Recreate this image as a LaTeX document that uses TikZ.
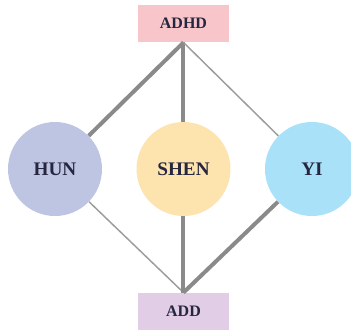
\documentclass[tikz,border=0pt]{standalone}
\usepackage{fontspec}
\setmainfont{Liberation Serif}
\usepackage{xcolor}
\usepackage{tikz}
\usetikzlibrary{positioning, calc}
\definecolor{adhdpink}{HTML}{F8C6CA}
\definecolor{addlilac}{HTML}{E1CDE6}
\definecolor{hunblue}{HTML}{BEC5E2}
\definecolor{shenyellow}{HTML}{FDE3AE}
\definecolor{yicyan}{HTML}{A9E1F8}
\definecolor{labelink}{HTML}{26263F}
\definecolor{linkgray}{HTML}{8A8A8A}

\begin{document}
\begin{tikzpicture}[x=0.75pt, y=-0.75pt,
    labelbox/.style={minimum width=68pt, minimum height=28pt, inner sep=0pt,
      font=\bfseries\large, text=labelink},
    spirit/.style={circle, minimum size=70.5pt, inner sep=0pt,
      font=\bfseries\Large, text=labelink},
    strong/.style={draw=linkgray, line width=3pt},
    weak/.style={draw=linkgray!85, line width=1.1pt}]
    \useasboundingbox (0,0) rectangle (351,333);
    \node[labelbox, fill=adhdpink] (adhd) at (183.5,23.5) {ADHD};
    \node[labelbox, fill=addlilac] (add) at (183.5,311.5) {ADD};
    \node[spirit, fill=hunblue] (hun) at (55,169) {HUN};
    \node[spirit, fill=shenyellow] (shen) at (183.5,169) {SHEN};
    \node[spirit, fill=yicyan] (yi) at (312,169) {YI};
    % links to ADHD
    \draw[strong] (adhd.south) -- (hun);
    \draw[strong] (adhd.south) -- (shen);
    \draw[weak] (adhd.south) -- (yi);
    % links to ADD
    \draw[weak] (add.north) -- (hun);
    \draw[strong] (add.north) -- (shen);
    \draw[strong] (add.north) -- (yi);
  \end{tikzpicture}
\end{document}
